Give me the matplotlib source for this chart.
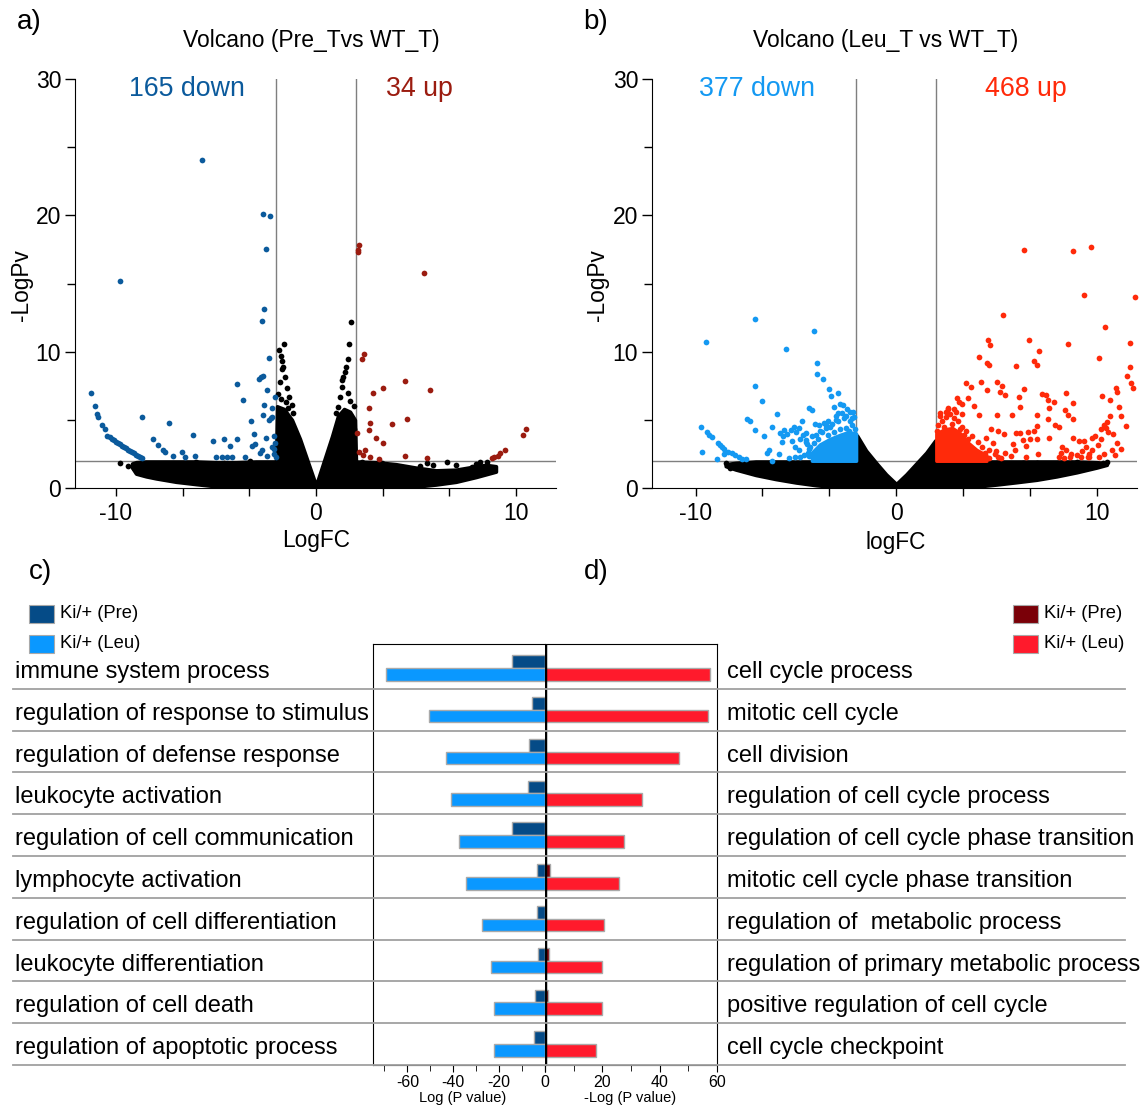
import matplotlib.pyplot as plt
import matplotlib.transforms as mtransforms
from matplotlib.patches import Rectangle
from matplotlib.ticker import MultipleLocator, FixedLocator

plt.rcParams['font.family'] = ['Liberation Sans', 'DejaVu Sans']
plt.rcParams['axes.unicode_minus'] = False

W, H = 1146, 1106

# ---------------- volcano a (Pre_T vs WT_T) ----------------
a_down_x = [-5.68, -9.8, -2.64, -2.28, -2.5, -2.62, -2.71, -2.35, -3.93, -3.66, -8.71, -7.33,
            -11.25, -11.05, -10.93, -10.88, -10.68, -10.55, -10.43, -10.3, -10.2, -10.1, -10.0,
            -9.9, -9.8, -9.7, -9.6, -9.5, -9.4, -9.3, -9.2, -9.1, -9.0, -8.9, -8.8, -8.7,
            -8.17, -7.88, -7.67, -7.55, -7.17, -6.68, -6.13, -6.05, -6.55, -5.13, -4.58, -4.3,
            -3.93, -5.0, -4.72, -4.47, -4.22, -3.55, -3.25, -3.1, -3.18, -3.05, -2.77, -2.67,
            -2.83, -2.47, -2.58, -2.63, -2.35, -2.27, -2.18, -2.5, -2.78, -2.72, -2.45, -2.18,
            -2.1, -2.05, -2.08, -2.05, -2.22, -2.12, -2.02]
a_down_y = [24.04, 15.16, 20.13, 19.98, 17.54, 13.14, 12.27, 9.55, 7.61, 6.49, 5.2, 4.77,
            7.0, 6.0, 5.43, 5.23, 4.65, 4.33, 3.85, 3.75, 3.62, 3.5, 3.4,
            3.3, 3.2, 3.1, 3.0, 2.9, 2.8, 2.72, 2.62, 2.55, 2.45, 2.37, 2.28, 2.2,
            3.62, 3.15, 2.76, 2.66, 2.35, 2.62, 3.89, 2.37, 2.25, 3.42, 3.57, 3.08,
            3.57, 2.24, 2.24, 2.24, 2.24, 2.25, 4.94, 3.96, 3.08, 3.23, 8.12, 8.22,
            8.02, 7.19, 6.07, 5.38, 4.99, 5.11, 5.23, 3.64, 2.54, 2.79, 2.35, 3.03,
            2.86, 3.28, 3.79, 6.7, 5.85, 2.49, 2.3]
a_up_x = [2.17, 2.08, 2.12, 5.38, 2.42, 2.3, 4.43, 5.7, 3.35, 2.83, 2.65, 2.72, 3.82, 4.55,
          2.67, 2.98, 3.35, 2.03, 2.13, 2.45, 2.33, 2.7, 3.13, 4.43, 5.57, 8.82, 8.92, 9.12,
          9.22, 9.45, 10.35, 10.48]
a_up_y = [17.85, 17.46, 17.34, 15.75, 9.83, 9.49, 7.85, 7.21, 7.34, 6.94, 5.87, 4.79, 4.67, 5.09,
          4.23, 3.67, 3.33, 4.06, 2.66, 2.79, 2.4, 2.25, 2.1, 2.35, 2.22, 2.2, 2.25, 2.35,
          2.55, 2.79, 3.89, 4.3]
a_ns_x = [-1.6, -1.85, -1.77, -1.7, -1.63, -1.72, -1.57, -1.47, -1.33, -1.22, -1.13, -1.8, -1.9,
          -1.5, -1.75, -1.4, 1.77, 1.63, 1.58, 1.5, 1.37, 1.28, 1.2, 1.12, 1.0, 1.45, 1.3, 1.9,
          1.7, 1.6, 1.9, 1.85, -9.8, -9.38, -9.08, -6.0, -5.5, -4.6, -3.3, -3.6, 2.3, 2.8, 3.3,
          4.07, 5.2, 5.57, 5.87, 6.53, 8.53, 7.0, 8.0, 8.2, 7.8, 4.4, 3.6]
a_ns_y = [10.54, 10.12, 9.71, 9.34, 8.85, 8.71, 8.17, 7.31, 6.7, 6.09, 5.48, 7.8, 6.9,
          6.3, 6.5, 5.9, 12.16, 10.56, 9.46, 8.9, 8.17, 7.43, 6.7, 5.96, 5.48, 8.5, 7.9, 6.0,
          6.4, 7.0, 4.3, 3.3, 1.86, 1.64, 1.44, 1.9, 1.75, 1.8, 1.95, 1.7, 1.9, 1.7, 1.85,
          1.56, 1.61, 1.81, 1.69, 1.88, 1.93, 1.7, 1.75, 1.9, 1.55, 1.4, 1.45]
# envelope of the dense non-significant cloud
a_env_x = [-9.2, -9.0, -8.5, -8.0, -7.0, -6.0, -5.0, -4.0, -3.0, -2.0, -1.95, -1.6, -1.2, -0.8,
           -0.4, 0.0, 0.4, 0.8, 1.1, 1.4, 1.7, 1.95, 2.0, 3.0, 4.0, 5.0, 6.0, 7.0, 8.0, 8.5, 9.0]
a_env_hi = [1.8, 1.9, 1.95, 1.95, 1.95, 1.95, 1.9, 1.9, 1.95, 1.95, 6.0, 5.8, 5.0, 3.6,
            1.9, 0.2, 2.0, 3.8, 5.3, 5.8, 5.6, 5.0, 1.95, 1.9, 1.75, 1.5, 1.3, 1.35, 1.6, 1.7, 1.6]
a_env_lo = [1.5, 1.05, 0.85, 0.7, 0.45, 0.28, 0.12, 0.04, 0.0, 0.0, 0.0, 0.0, 0.0, 0.0,
            0.0, 0.0, 0.0, 0.0, 0.0, 0.0, 0.0, 0.0, 0.0, 0.0, 0.02, 0.1, 0.25, 0.45, 0.8, 1.0, 1.2]

# ---------------- volcano b (Leu_T vs WT_T) ----------------
b_down_x = [-7.05, -9.48, -4.1, -5.49, -3.96, -3.97, -3.66, -7.03, -6.67, -3.33, -2.88, -3.24,
            -5.94, -3.11, -2.78, -2.64, -7.42, -7.27, -7.03, -6.57, -6.18, -9.73, -9.43, -9.31,
            -9.19, -8.89, -8.79, -8.68, -8.59, -8.59, -8.36, -8.18, -8.01, -7.85, -7.68, -7.48,
            -9.66, -8.94, -6.35, -6.43, -5.84, -6.18, -5.77, -5.65, -5.57, -5.44, -5.69, -5.22,
            -5.1, -4.99, -4.85, -4.69, -4.65, -4.52, -4.35, -4.22, -4.07, -4.02, -5.19, -5.05,
            -4.77, -4.85, -4.49, -4.35, -5.35, -5.05, -4.77, -4.35, -3.5, -3.0, -2.5, -2.2,
            -3.8, -3.4, -2.9, -2.3, -4.5, -4.2,
            -2.1, -2.3, -2.6, -2.9, -3.2, -3.5, -3.7, -2.2, -2.5, -2.8, -3.1, -3.4, -3.9, -4.1,
            -4.3, -2.15, -2.45, -2.7, -3.0, -3.6, -3.85, -4.4, -4.6, -4.45, -2.05, -2.35, -3.3]
b_down_y = [12.38, 10.71, 11.54, 10.22, 9.15, 8.39, 7.97, 7.51, 6.41, 7.29, 6.95, 6.73,
            5.43, 5.97, 6.16, 6.07, 5.04, 4.89, 4.26, 3.82, 4.48, 4.45, 4.09, 3.91,
            3.76, 3.28, 3.13, 3.03, 2.88, 2.49, 2.66, 2.55, 2.4, 2.3, 2.15, 2.1,
            2.64, 2.1, 2.79, 2.55, 2.49, 1.96, 4.01, 3.82, 4.26, 3.96, 3.37, 4.26,
            4.5, 4.13, 4.4, 4.94, 3.91, 4.01, 5.87, 5.72, 4.7, 3.91, 3.47, 3.03,
            3.57, 2.79, 3.37, 2.88, 2.18, 2.3, 2.25, 2.35, 4.6, 5.0, 5.3, 5.1,
            4.2, 4.9, 5.5, 5.6, 3.5, 3.8,
            5.2, 4.9, 5.1, 4.9, 4.7, 4.4, 4.1, 4.6, 4.4, 4.3, 4.1, 3.9, 3.6, 3.3,
            3.0, 5.6, 5.8, 5.5, 5.3, 4.8, 4.6, 2.6, 2.4, 3.2, 4.3, 4.2, 4.5]
b_up_x = [6.37, 8.82, 9.7, 9.37, 11.89, 5.32, 10.39, 4.58, 4.69, 6.61, 7.14, 8.58, 11.63,
          10.1, 4.15, 4.53, 4.62, 5.99, 6.85, 7.03, 11.63, 11.49, 11.71, 11.78, 3.49, 3.74,
          4.22, 5.04, 5.28, 5.17, 5.41, 4.51, 6.36, 6.14, 7.27, 7.47, 8.47, 8.8, 10.28, 10.94,
          11.0, 10.65, 11.09, 11.2, 11.45, 3.01, 3.12, 3.27, 3.56, 3.89, 4.11, 6.16, 7.58,
          7.87, 8.42, 8.55, 8.79, 5.79, 5.02, 7.0, 7.6, 7.54, 7.91, 8.09, 7.0, 5.99, 6.19,
          6.58, 6.85, 4.71, 5.08, 5.35, 7.63, 7.0, 6.3, 6.45, 6.68, 5.81, 5.9, 4.47, 4.8,
          7.05, 8.82, 9.1, 8.27, 8.46, 8.73, 8.64, 9.37, 9.74, 9.46, 9.74, 10.06, 9.59,
          10.19, 10.37, 10.5, 10.65, 10.56, 10.79, 11.01, 10.74, 10.37, 10.1, 11.2, 8.09,
          8.37, 9.19, 9.55, 9.28, 6.45, 5.72, 5.44, 4.99, 5.08, 4.44, 4.62, 3.89, 4.07, 3.62,
          2.2, 2.5, 2.9, 3.3, 2.6, 9.9, 10.2, 10.45, 9.6, 9.0, 8.2, 10.9,
          2.1, 2.3, 2.5, 2.7, 2.9, 3.1, 3.3, 3.5, 3.8, 4.1, 2.2, 2.6, 3.0, 2.4, 2.8, 3.2,
          3.6, 4.3, 4.6, 4.9, 5.2, 4.0, 2.05, 3.4]
b_up_y = [17.49, 17.36, 17.7, 14.14, 13.98, 12.72, 11.78, 10.84, 10.47, 10.84, 10.05, 10.58, 10.63,
          9.53, 9.58, 9.19, 9.0, 8.93, 9.32, 9.0, 8.85, 8.22, 7.67, 7.36, 7.7, 7.41,
          7.8, 7.8, 7.49, 7.02, 6.81, 7.17, 7.23, 6.7, 6.88, 6.83, 6.96, 6.23, 6.75, 7.3,
          7.04, 6.44, 5.92, 5.26, 4.53, 6.57, 6.31, 6.13, 6.57, 6.05, 5.39, 5.97, 6.49,
          6.31, 5.71, 5.39, 5.08, 5.34, 5.34, 5.34, 5.84, 5.08, 4.61, 4.45, 4.55, 4.01, 4.03,
          4.08, 4.21, 4.35, 4.21, 3.95, 3.69, 3.56, 3.51, 3.09, 3.56, 3.22, 2.77, 3.66, 3.3,
          2.51, 3.69, 3.43, 2.98, 2.77, 2.51, 2.25, 3.43, 3.69, 3.04, 2.77, 3.17, 2.51,
          4.35, 4.61, 4.87, 5.26, 4.08, 3.95, 3.3, 2.77, 2.51, 2.25, 2.83, 2.25,
          2.2, 2.3, 2.25, 2.72, 2.3, 2.38, 2.57, 2.72, 2.25, 2.57, 2.2, 2.72, 2.38, 2.72,
          5.3, 5.6, 5.8, 5.4, 5.9, 3.8, 3.6, 4.4, 2.3, 2.4, 2.6, 2.4,
          4.6, 4.9, 5.2, 5.4, 5.1, 4.9, 4.5, 4.2, 3.8, 3.4, 5.5, 5.8, 5.6, 4.5, 4.7, 4.3,
          3.6, 3.0, 2.8, 2.5, 2.2, 2.6, 4.2, 3.9]
b_ns_x = [-8.5, -8.2, -7.9, -7.6, -8.3, -7.1, 10.3, 10.5, 9.5, 8.7, 7.0, 6.3, 5.0, 4.2, 6.8, 9.0]
b_ns_y = [1.8, 1.7, 1.55, 1.45, 1.5, 1.3, 1.8, 1.9, 1.75, 1.8, 1.8, 1.85, 1.85, 1.8, 1.6, 1.9]
b_env_x = [-8.5, -8.0, -7.5, -7.0, -6.0, -5.0, -4.0, -3.0, -2.0, -1.95, -1.5, -1.0, -0.5, 0.0,
           0.5, 1.0, 1.5, 1.95, 2.0, 3.0, 4.0, 5.0, 6.0, 7.0, 8.0, 9.0, 10.0, 10.5]
b_env_hi = [1.75, 1.85, 1.9, 1.95, 1.95, 1.95, 1.95, 1.95, 1.95, 3.85, 2.75, 1.85, 1.0, 0.3,
            1.0, 1.8, 2.6, 3.5, 1.95, 1.95, 1.95, 1.95, 1.95, 1.95, 1.95, 1.95, 1.9, 1.8]
b_env_lo = [1.6, 1.35, 1.15, 0.95, 0.65, 0.4, 0.2, 0.05, 0.0, 0.0, 0.0, 0.0, 0.0, 0.0,
            0.0, 0.0, 0.0, 0.0, 0.0, 0.0, 0.1, 0.25, 0.42, 0.6, 0.85, 1.15, 1.5, 1.7]
# dense cores of the significant clusters next to the thresholds
b_blue_x = [-4.2, -3.8, -3.3, -2.8, -2.4, -2.0]
b_blue_hi = [2.6, 3.2, 3.6, 3.9, 4.1, 4.0]
b_red_x = [2.0, 2.4, 2.8, 3.2, 3.6, 4.0, 4.5]
b_red_hi = [4.0, 4.3, 4.4, 4.0, 3.3, 2.8, 2.4]

# ---------------- GO bars ----------------
down_terms = ["immune system process", "regulation of response to stimulus",
              "regulation of defense response", "leukocyte activation",
              "regulation of cell communication", "lymphocyte activation",
              "regulation of cell differentiation", "leukocyte differentiation",
              "regulation of cell death", "regulation of apoptotic process"]
down_pre = [-14.5, -5.8, -7.1, -7.6, -14.5, -3.6, -3.3, -3.2, -4.5, -4.9]
down_leu = [-69.4, -50.5, -43.2, -41.0, -37.4, -34.5, -27.6, -23.6, -22.1, -22.1]
up_terms = ["cell cycle process", "mitotic cell cycle", "cell division",
            "regulation of cell cycle process", "regulation of cell cycle phase transition",
            "mitotic cell cycle phase transition", "regulation of  metabolic process",
            "regulation of primary metabolic process", "positive regulation of cell cycle",
            "cell cycle checkpoint"]
up_pre = [0.0, 0.0, 0.0, 0.0, 0.0, 1.7, 0.0, 1.4, 1.2, 0.0]
up_leu = [57.6, 57.0, 46.7, 33.7, 27.7, 25.9, 20.7, 20.0, 20.0, 17.9]


def rect(l, t, r, b):
    return [l / W, 1 - b / H, (r - l) / W, (b - t) / H]


fig = plt.figure(figsize=(W / 100, H / 100), dpi=100)


def volcano(ax, env, dn, up, ns, cdn, cup, ndn, nup, xlim, lab_x, clusters=None):
    ax.set_xlim(*xlim)
    ax.set_ylim(0, 30)
    ax.axvline(-2, 2 / 30, 1, color='#7f7f7f', lw=1, zorder=1)
    ax.axvline(2, 2 / 30, 1, color='#7f7f7f', lw=1, zorder=1)
    ax.axhline(2, color='#7f7f7f', lw=1, zorder=1)
    ex, elo, ehi = env
    ax.fill_between(ex, elo, ehi, color='black', lw=2.5, edgecolor='black', zorder=2)
    ax.scatter(ns[0], ns[1], s=17, color='black', lw=0, zorder=3)
    if clusters:
        for cx, chi, col in clusters:
            ax.fill_between(cx, [2.0] * len(cx), chi, color=col, lw=2.5, edgecolor=col, zorder=3)
    ax.scatter(dn[0], dn[1], s=17, color=cdn, lw=0, zorder=4, clip_on=False)
    ax.scatter(up[0], up[1], s=17, color=cup, lw=0, zorder=4, clip_on=False)
    ax.text(lab_x[0], 29.3, ndn, color=cdn, fontsize=19.3, ha='center', va='center')
    ax.text(lab_x[1], 29.3, nup, color=cup, fontsize=19.3, ha='center', va='center')
    for s in ['top', 'right']:
        ax.spines[s].set_visible(False)
    ax.xaxis.set_major_locator(FixedLocator([-10, 0, 10]))
    ax.xaxis.set_minor_locator(FixedLocator([-20 / 3, -10 / 3, 10 / 3, 20 / 3]))
    ax.yaxis.set_major_locator(MultipleLocator(10))
    ax.yaxis.set_minor_locator(MultipleLocator(5))
    ax.tick_params(which='both', direction='out', labelsize=16.5, width=1)
    ax.tick_params(axis='y', which='major', length=7, pad=3)
    ax.tick_params(axis='y', which='minor', length=6)
    ax.tick_params(axis='x', which='major', length=6, pad=4)
    ax.tick_params(axis='x', which='minor', length=6)


ax_a = fig.add_axes(rect(75, 79, 556, 488))
volcano(ax_a, (a_env_x, a_env_lo, a_env_hi), (a_down_x, a_down_y), (a_up_x, a_up_y),
        (a_ns_x, a_ns_y), '#0b5a9c', '#9b1c10', '165 down', '34 up', (-12.05, 12.0),
        (-6.45, 5.15))

ax_b = fig.add_axes(rect(652, 79, 1137, 488))
volcano(ax_b, (b_env_x, b_env_lo, b_env_hi), (b_down_x, b_down_y), (b_up_x, b_up_y),
        (b_ns_x, b_ns_y), '#1499f2', '#ff2a0a', '377 down', '468 up', (-12.17, 12.0),
        (-6.93, 6.48),
        clusters=[(b_blue_x, b_blue_hi, '#1499f2'), (b_red_x, b_red_hi, '#ff2a0a')])


def ftext(x, y, s, **kw):
    fig.text(x / W, 1 - y / H, s, **kw)


ftext(311, 40, "Volcano (Pre_Tvs WT_T)", fontsize=16.5, ha='center', va='center')
ftext(886, 40, "Volcano (Leu_T vs WT_T)", fontsize=16.5, ha='center', va='center')
ftext(316, 541, "LogFC", fontsize=16.3, ha='center', va='center')
ftext(896, 542, "logFC", fontsize=16.3, ha='center', va='center')
ftext(22, 285, "-LogPv", fontsize=16.3, ha='center', va='center', rotation=90)
ftext(597, 285, "-LogPv", fontsize=16.3, ha='center', va='center', rotation=90)
ftext(29, 22, "a)", fontsize=20, ha='center', va='center')
ftext(596, 22, "b)", fontsize=20, ha='center', va='center')
ftext(40, 572, "c)", fontsize=20, ha='center', va='center')
ftext(596, 572, "d)", fontsize=20, ha='center', va='center')

# ---------------- bar panels ----------------
rows = list(range(len(down_terms)))
bh = 0.304
ax_l = fig.add_axes(rect(373, 644, 545, 1065))
ax_r = fig.add_axes(rect(545, 644, 717, 1065))
for ax in (ax_l, ax_r):
    ax.set_ylim(9.5, -0.574)
    ax.set_yticks([])
    ax.set_facecolor('none')
    ax.tick_params(axis='x', which='both', direction='out', labelsize=11.5, pad=2)
    ax.tick_params(axis='x', which='major', length=5)
    ax.tick_params(axis='x', which='minor', length=4)

ax_l.set_xlim(-75, 0)
ax_l.barh([r - bh / 2 for r in rows], down_pre, height=bh, color='#054b87',
          edgecolor='#a9a9a9', lw=1, zorder=3)
ax_l.barh([r + bh / 2 for r in rows], down_leu, height=bh, color='#0a98ff',
          edgecolor='#a9a9a9', lw=1, zorder=3)
ax_l.xaxis.set_major_locator(FixedLocator([-60, -40, -20, 0]))
ax_l.xaxis.set_minor_locator(FixedLocator([-70, -50, -30, -10]))
ax_l.spines['right'].set_visible(False)

ax_r.set_xlim(0, 60)
ax_r.barh([r - bh / 2 for r in rows], up_pre, height=bh, color='#7a0008',
          edgecolor='#a9a9a9', lw=1, zorder=3)
ax_r.barh([r + bh / 2 for r in rows], up_leu, height=bh, color='#ff1a2c',
          edgecolor='#a9a9a9', lw=1, zorder=3)
ax_r.xaxis.set_major_locator(FixedLocator([0, 20, 40, 60]))
ax_r.xaxis.set_minor_locator(FixedLocator([10, 30, 50]))
ax_r.set_xticklabels(['', '20', '40', '60'])
ax_r.spines['left'].set_visible(False)
ax_r.axvline(0, color='black', lw=2.5, zorder=5)

ftext(463, 1098, "Log (P value)", fontsize=10.5, ha='center', va='center')
ftext(630, 1098, "-Log (P value)", fontsize=10.5, ha='center', va='center')

tr = mtransforms.blended_transform_factory(fig.transFigure, ax_l.transData)
for r in rows:
    fig.add_artist(plt.Line2D([13 / W, 1125 / W], [r + 0.5, r + 0.5], transform=tr,
                              color='#a0a0a0', lw=1.3, zorder=1))
    fig.text(15 / W, r + 0.24, down_terms[r], transform=tr, fontsize=17, va='baseline')
    fig.text(727 / W, r + 0.24, up_terms[r], transform=tr, fontsize=17, va='baseline')

# legends
for (x0, labels, cols) in [(29, ["Ki/+ (Pre)", "Ki/+ (Leu)"], ['#054b87', '#0a98ff']),
                           (1013, ["Ki/+ (Pre)", "Ki/+ (Leu)"], ['#7a0008', '#ff1a2c'])]:
    for k, (lab, col) in enumerate(zip(labels, cols)):
        y0 = 605 + 30 * k
        fig.add_artist(Rectangle((x0 / W, 1 - (y0 + 18) / H), 25 / W, 18 / H,
                                 transform=fig.transFigure, facecolor=col,
                                 edgecolor='#a9a9a9', lw=0.8))
        ftext(x0 + 31, y0 + 9, lab, fontsize=13.2, ha='left', va='center')

fig.savefig("out.png", dpi=100)
